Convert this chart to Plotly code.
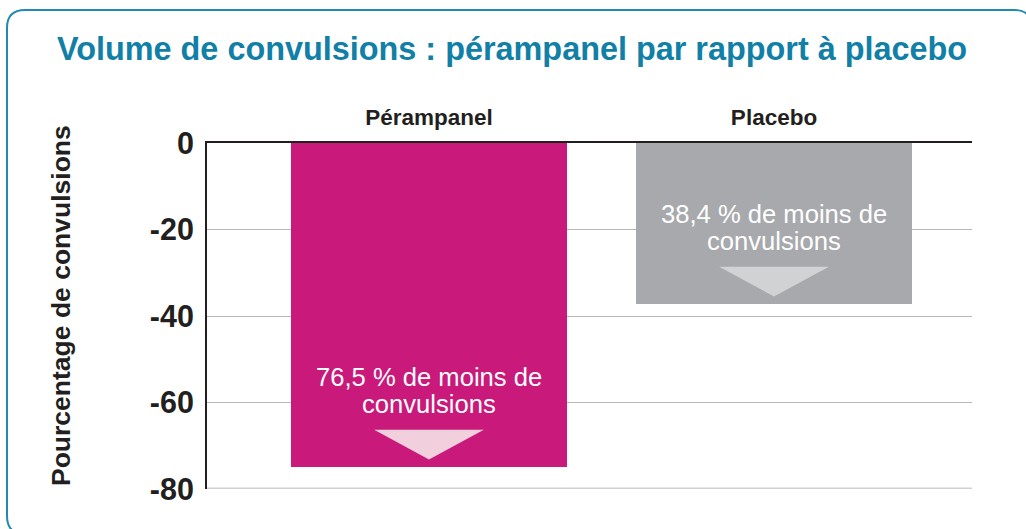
import plotly.graph_objects as go

# ---- data ----
categories = ["Pérampanel", "Placebo"]
values = [-75.0, -37.3]
label_line1 = ["76,5 % de moins de", "38,4 % de moins de"]
label_line2 = ["convulsions", "convulsions"]
y_ticks = [0, -20, -40, -60, -80]
title_text = "Volume de convulsions : pérampanel par rapport à placebo"
y_title = "Pourcentage de convulsions"

# ---- styles ----
bar_colors = ["#c9197a", "#a7a9ac"]
arrow_colors = ["#f2cfdd", "#d1d2d4"]
dark = "#231f20"
teal = "#117fa6"
border_color = "#2289b0"
FONT = "Liberation Sans, Arial, sans-serif"

W, H = 1026, 529
ML, MR, MT, MB = 207, 54, 143, 40
PW, PH = W - ML - MR, H - MT - MB


def px_x(p):
    return (p - ML) / PW


def px_y(p):
    return (H - MB - p) / PH


xpos = list(range(len(categories)))

fig = go.Figure()
fig.add_trace(go.Bar(
    x=xpos, y=values, width=0.8,
    marker=dict(color=bar_colors, line=dict(width=0)),
    hoverinfo="skip", showlegend=False,
))

# downward arrows inside the bars
half = 0.159
for i, v in enumerate(values):
    fig.add_trace(go.Scatter(
        x=[i - half, i + half, i, i - half],
        y=[v + 8.7, v + 8.7, v + 1.8, v + 8.7],
        mode="lines", fill="toself", fillcolor=arrow_colors[i],
        line=dict(width=0, color=arrow_colors[i]),
        hoverinfo="skip", showlegend=False,
    ))

annotations = []
for i, v in enumerate(values):
    annotations.append(dict(
        x=i, y=v + 20.9, xref="x", yref="y", text=label_line1[i],
        showarrow=False, xanchor="center", yanchor="middle",
        font=dict(family=FONT, size=25.6, color="white"),
    ))
    annotations.append(dict(
        x=i, y=v + 14.7, xref="x", yref="y", text=label_line2[i],
        showarrow=False, xanchor="center", yanchor="middle",
        font=dict(family=FONT, size=25.6, color="white"),
    ))

# title
annotations.append(dict(
    x=px_x(55), y=px_y(48.5), xref="paper", yref="paper", text=title_text,
    showarrow=False, xanchor="left", yanchor="middle",
    font=dict(family=FONT, size=32.4, color=teal, weight="bold"),
))
# y axis title
annotations.append(dict(
    x=px_x(61), y=px_y(306), xref="paper", yref="paper", text=y_title,
    showarrow=False, xanchor="center", yanchor="middle", textangle=-90,
    font=dict(family=FONT, size=26.5, color=dark, weight="bold"),
))

# rounded border
x0, x1 = px_x(7), px_x(1032)
yt, yb = px_y(10), px_y(534)
rx, ry = 18 / PW, 18 / PH
path = (f"M {x0+rx},{yt} L {x1-rx},{yt} Q {x1},{yt} {x1},{yt-ry} "
        f"L {x1},{yb+ry} Q {x1},{yb} {x1-rx},{yb} "
        f"L {x0+rx},{yb} Q {x0},{yb} {x0},{yb+ry} "
        f"L {x0},{yt-ry} Q {x0},{yt} {x0+rx},{yt} Z")

shapes = [
    dict(type="path", path=path, xref="paper", yref="paper",
         line=dict(color=border_color, width=2), fillcolor="rgba(0,0,0,0)"),
    dict(type="line", xref="paper", yref="y", x0=0, x1=1,
         y0=y_ticks[-1], y1=y_ticks[-1], layer="below",
         line=dict(color="#d0d0d0", width=3)),
]

fig.update_layout(
    width=W, height=H,
    margin=dict(l=ML, r=MR, t=MT, b=MB, pad=0),
    paper_bgcolor="white", plot_bgcolor="white",
    annotations=annotations, shapes=shapes,
    bargap=0,
    xaxis=dict(
        range=[-0.6435, 1.5739], tickvals=xpos, ticktext=categories,
        side="top", showline=True, linecolor=dark, linewidth=2,
        showgrid=False, zeroline=False, ticks="", ticklabelstandoff=7,
        tickfont=dict(family=FONT, size=22.5, color=dark, weight="bold"),
        fixedrange=True,
    ),
    yaxis=dict(
        range=[y_ticks[-1], y_ticks[0]], tickvals=y_ticks,
        ticktext=[str(t) for t in y_ticks],
        showline=True, linecolor=dark, linewidth=2,
        showgrid=True, gridcolor="#b8b8b8", gridwidth=1, zeroline=False,
        ticks="", ticklabelstandoff=5,
        tickfont=dict(family=FONT, size=30.5, color=dark, weight="bold"),
        fixedrange=True,
    ),
)

fig.write_html("out.html")
